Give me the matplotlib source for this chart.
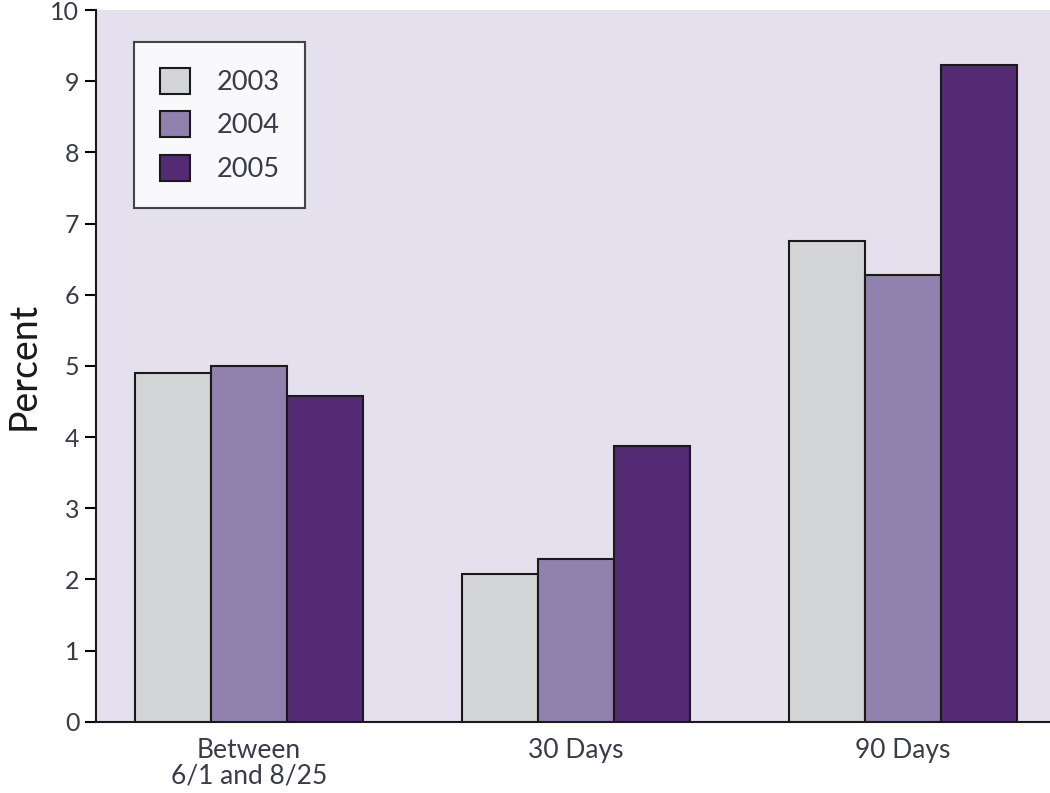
import matplotlib
matplotlib.use("Agg")
import matplotlib.pyplot as plt
import numpy as np

categories = ["Between\n6/1 and 8/25", "30 Days", "90 Days"]
years = ["2003", "2004", "2005"]
values_2003 = [4.9, 2.08, 6.75]
values_2004 = [5.0, 2.28, 6.28]
values_2005 = [4.57, 3.88, 9.23]
colors = ["#d3d4d6", "#9181ae", "#532a73"]

plt.rcParams['font.family'] = ['Lato', 'DejaVu Sans']
text_color = "#3a3a48"

fig = plt.figure(figsize=(10.5, 7.93), dpi=100)
ax = fig.add_axes([96/1050, 1-721.7/793, (1050-96)/1050, (721.7-10)/793])
ax.set_facecolor("#e4e0ee")

x = np.arange(len(categories))
w = 0.233
series = [values_2003, values_2004, values_2005]
for i, (vals, c, yr) in enumerate(zip(series, colors, years)):
    ax.bar(x + (i - 1) * w, vals, width=w, color=c, edgecolor="#1a1a1a",
           linewidth=1.5, label=yr, zorder=3)

ax.set_xlim(-0.468, 2.45)
ax.set_ylim(0, 10)
ax.set_yticks(range(0, 11))
ax.set_xticks(x)
ax.set_xticklabels(categories, fontsize=19, color=text_color, linespacing=1.0)
ax.tick_params(axis='x', length=0, pad=12)
ax.tick_params(axis='y', length=8, width=1.5, labelsize=18, labelcolor=text_color, pad=4)
for s in ["top", "right"]:
    ax.spines[s].set_visible(False)
for s in ["left", "bottom"]:
    ax.spines[s].set_linewidth(1.5)
    ax.spines[s].set_color("#1a1a1a")
ax.set_ylabel("Percent", fontsize=27, color="#1a1a1a", labelpad=6)

leg = ax.legend(loc="upper left", bbox_to_anchor=(38/954, 1-(42-10)/711.7),
                fontsize=19.5, frameon=True, fancybox=False, edgecolor="#1a1a1a",
                handlelength=1.1, handleheight=1.1, handletextpad=1.0,
                labelspacing=0.6, borderpad=0.95, borderaxespad=0)
leg.get_frame().set_linewidth(1.5)
for t in leg.get_texts():
    t.set_color(text_color)

fig.savefig("out.png", dpi=100)
